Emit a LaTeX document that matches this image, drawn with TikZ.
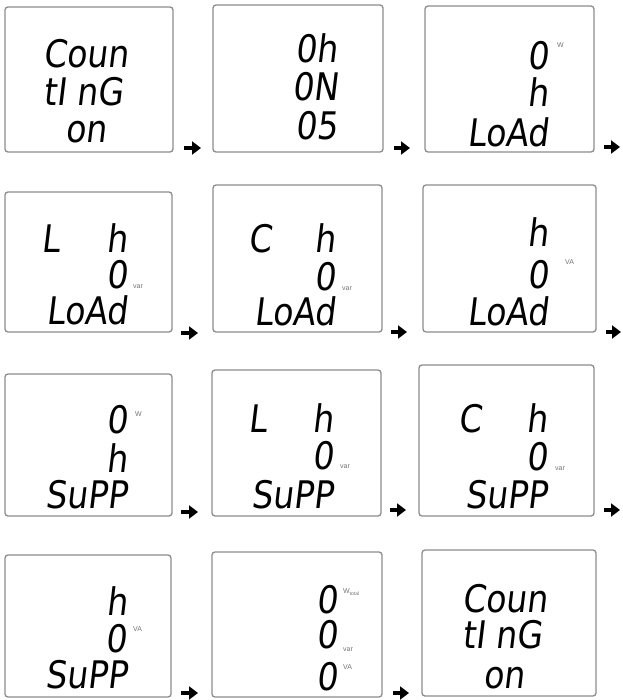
\documentclass[tikz,border=0pt]{standalone}
\usepackage{fontspec}
\newfontfamily\segfont[FakeSlant=0.12,FakeStretch=0.87]{DejaVu Sans}
\newfontfamily\unitfont{Liberation Sans}
\usetikzlibrary{arrows.meta}
\tikzset{
 lcd/.style={draw=black!45, line width=1.3pt, rounded corners=3pt, inner sep=0, fill=white},
 seg/.style={font=\segfont\fontsize{38}{38}\selectfont, inner sep=0, text depth=0pt, text height=28pt, anchor=base east},
 segw/.style={seg, anchor=base west},
 unit/.style={font=\unitfont\fontsize{7}{7}\selectfont, text=black!55, inner sep=0, anchor=base west},
 nextarrow/.style={line width=3.5pt, -{Triangle[length=9pt,width=13pt]}},
}
\begin{document}
\begin{tikzpicture}[x=1pt,y=-1pt]
\path[use as bounding box] (0,0) rectangle (622,700);
% boxes
\node[lcd, minimum width=168, minimum height=145] (b1) at (89,79.5) {};
\node[lcd, minimum width=170, minimum height=147] (b2) at (298,78.5) {};
\node[lcd, minimum width=169, minimum height=146] (b3) at (509.5,79) {};
\node[lcd, minimum width=167, minimum height=140] (b4) at (88.5,262) {};
\node[lcd, minimum width=169, minimum height=147] (b5) at (297.5,258.5) {};
\node[lcd, minimum width=173, minimum height=147] (b6) at (509.5,258.5) {};
\node[lcd, minimum width=167, minimum height=142] (b7) at (88.5,445) {};
\node[lcd, minimum width=169, minimum height=146] (b8) at (296.5,443) {};
\node[lcd, minimum width=175, minimum height=151] (b9) at (506.5,440.5) {};
\node[lcd, minimum width=166, minimum height=142] (b10) at (88,626) {};
\node[lcd, minimum width=170, minimum height=145] (b11) at (297,624.5) {};
\node[lcd, minimum width=174, minimum height=146] (b12) at (509,623) {};
% box 1
\node[segw] (t1a) at (43,68) {Coun};
\node[segw] (t1b) at (43,106) {tI nG};
\node[segw] (t1c) at (65,143) {on};
% box 2
\node[seg] (t2a) at (338,63) {0h};
\node[seg] (t2b) at (338,101) {0N};
\node[seg] (t2c) at (338,140) {05};
% box 3
\node[seg] (t3a) at (549,70) {0};
\node[unit] (u3a) at (557,48) {W};
\node[seg] (t3b) at (549,107) {h};
\node[seg] (t3c) at (549,147) {LoAd};
% box 4
\node[segw] (t4a) at (41,252) {L};
\node[seg] (t4b) at (128,252) {h};
\node[seg] (t4c) at (128,288) {0};
\node[unit] (u4) at (133,288) {var};
\node[seg] (t4d) at (128,324) {LoAd};
% box 5
\node[segw] (t5a) at (248,252) {C};
\node[seg] (t5b) at (336,252) {h};
\node[seg] (t5c) at (336,290) {0};
\node[unit] (u5) at (342,290) {var};
\node[seg] (t5d) at (336,325) {LoAd};
% box 6
\node[seg] (t6a) at (549,247) {h};
\node[seg] (t6b) at (549,288) {0};
\node[unit] (u6) at (565,265) {VA};
\node[seg] (t6c) at (549,325) {LoAd};
% box 7
\node[seg] (t7a) at (128,433) {0};
\node[unit] (u7) at (135,416) {W};
\node[seg] (t7b) at (128,472) {h};
\node[seg] (t7c) at (128,508) {SuPP};
% box 8
\node[segw] (t8a) at (248,432) {L};
\node[seg] (t8b) at (334,432) {h};
\node[seg] (t8c) at (334,469) {0};
\node[unit] (u8) at (340,468) {var};
\node[seg] (t8d) at (334,508) {SuPP};
% box 9
\node[segw] (t9a) at (458,432) {C};
\node[seg] (t9b) at (548,432) {h};
\node[seg] (t9c) at (548,470) {0};
\node[unit] (u9) at (555,470) {var};
\node[seg] (t9d) at (548,508) {SuPP};
% box 10
\node[seg] (t10a) at (128,615) {h};
\node[seg] (t10b) at (127,652) {0};
\node[unit] (u10) at (133,631) {VA};
\node[seg] (t10c) at (128,688) {SuPP};
% box 11
\node[seg] (t11a) at (338,613) {0};
\node[unit] (u11a) at (343,593) {W\raisebox{-2.5pt}{\fontsize{5}{5}\selectfont total}};
\node[seg] (t11b) at (338,648) {0};
\node[unit] (u11b) at (343,651) {var};
\node[seg] (t11c) at (338,690) {0};
\node[unit] (u11c) at (343,669) {VA};
% box 12
\node[segw] (t12a) at (462,612) {Coun};
\node[segw] (t12b) at (462,648) {tI nG};
\node[segw] (t12c) at (483,688) {on};
% arrows
\coordinate (a1s) at (184,148); \coordinate (a1e) at (201,148);
\coordinate (a2s) at (394,148); \coordinate (a2e) at (410,148);
\coordinate (a3s) at (604,147); \coordinate (a3e) at (620,147);
\coordinate (a4s) at (181,333); \coordinate (a4e) at (198,333);
\coordinate (a5s) at (391,332); \coordinate (a5e) at (407,332);
\coordinate (a6s) at (606,332); \coordinate (a6e) at (621,332);
\coordinate (a7s) at (181,512); \coordinate (a7e) at (198,512);
\coordinate (a8s) at (390,510); \coordinate (a8e) at (406,510);
\coordinate (a9s) at (604,510); \coordinate (a9e) at (620,510);
\coordinate (a10s) at (181,693); \coordinate (a10e) at (198,693);
\coordinate (a11s) at (393,693); \coordinate (a11e) at (409,693);
\foreach \i in {1,...,11} \draw[nextarrow] (a\i s) -- (a\i e);
\end{tikzpicture}
\end{document}
